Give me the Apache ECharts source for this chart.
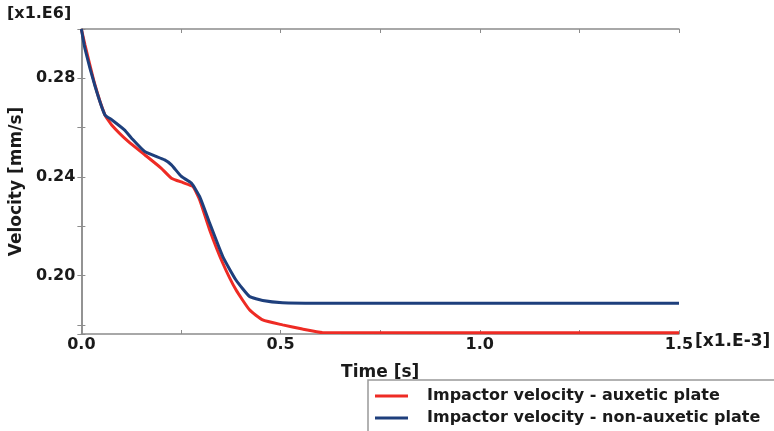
<!DOCTYPE html>
<html>
<head>
<meta charset="utf-8">
<script src="https://cdn.jsdelivr.net/npm/echarts@6/dist/echarts.min.js"></script>
<style>
  html, body { margin: 0; padding: 0; background: #fff; }
  #chart { width: 774px; height: 431px; }
</style>
</head>
<body>
<div id="chart"></div>
<script>
  // time in [x1.E-3] s, velocity in [x1.E6] mm/s
  const timeAuxetic = [0, 0.009, 0.034, 0.059, 0.076, 0.1175, 0.159, 0.2, 0.226, 0.255, 0.28, 0.297, 0.322, 0.355, 0.388, 0.422, 0.455, 0.505, 0.555, 0.605, 1.5];
  const velAuxetic = [0.300, 0.2936, 0.2774, 0.2652, 0.2611, 0.2544, 0.249, 0.2436, 0.2395, 0.2377, 0.2361, 0.2307, 0.2185, 0.205, 0.1942, 0.1861, 0.182, 0.180, 0.1783, 0.1769, 0.1768];
  const timeNonAuxetic = [0, 0.009, 0.034, 0.059, 0.076, 0.108, 0.126, 0.159, 0.209, 0.226, 0.251, 0.276, 0.297, 0.322, 0.355, 0.388, 0.422, 0.455, 0.505, 0.59, 1.5];
  const velNonAuxetic = [0.300, 0.292, 0.277, 0.2652, 0.2632, 0.2591, 0.2557, 0.2503, 0.2469, 0.2449, 0.2402, 0.2375, 0.232, 0.2213, 0.2077, 0.1982, 0.1915, 0.1899, 0.189, 0.1888, 0.1888];
  const xLabels = ['0.0', '0.5', '1.0', '1.5'];
  const yLabels = ['0.20', '0.24', '0.28'];
  const seriesNames = ['Impactor velocity - auxetic plate', 'Impactor velocity - non-auxetic plate'];

  const font = 'DejaVu Sans';
  const axisGrey = '#8c8c8c';
  const ink = '#1a1a1a';

  function pairs(ts, vs) {
    return ts.map(function (t, i) { return [t, vs[i]]; });
  }

  const chart = echarts.init(document.getElementById('chart'));

  const xBase = {
    type: 'value',
    min: 0,
    max: 1.5,
    interval: 0.25,
    splitLine: { show: false },
    axisLine: { lineStyle: { color: axisGrey, width: 1.5 } },
    axisTick: { inside: true, length: 4, lineStyle: { color: axisGrey } }
  };
  const yBase = {
    type: 'value',
    min: 0.1763,
    max: 0.30,
    splitNumber: 5,
    scale: true,
    splitLine: { show: false },
    axisLine: { show: true, lineStyle: { color: axisGrey, width: 1.5 } },
    axisTick: { show: true, inside: true, length: 4, lineStyle: { color: axisGrey } }
  };

  const option = {
    animation: false,
    grid: { left: 78, right: 95, top: 29, bottom: 97 },
    xAxis: [
      Object.assign({}, xBase, {
        position: 'bottom',
        name: 'Time [s]',
        nameLocation: 'middle',
        nameGap: 30,
        nameTextStyle: { fontFamily: font, fontWeight: 'bold', fontSize: 17, color: ink },
        axisLabel: {
          margin: 3,
          fontFamily: font, fontWeight: 'bold', fontSize: 16, color: ink,
          formatter: function (v) {
            const s = v.toFixed(1);
            return xLabels.indexOf(s) >= 0 && Math.abs(v * 2 - Math.round(v * 2)) < 1e-6 ? s : '';
          }
        }
      }),
      Object.assign({}, xBase, { position: 'top', axisLabel: { show: false } })
    ],
    yAxis: [
      Object.assign({}, yBase, {
        position: 'left',
        name: 'Velocity [mm/s]',
        nameLocation: 'middle',
        nameGap: 54,
        nameTextStyle: { fontFamily: font, fontWeight: 'bold', fontSize: 17, color: ink },
        axisLabel: {
          margin: 6,
          fontFamily: font, fontWeight: 'bold', fontSize: 16, color: ink,
          formatter: function (v) {
            const s = v.toFixed(2);
            return yLabels.indexOf(s) >= 0 && Math.abs(v * 100 - Math.round(v * 100)) < 1e-6 ? s : '';
          }
        }
      }),
      Object.assign({}, yBase, { position: 'right', axisLabel: { show: false } })
    ],
    legend: {
      orient: 'vertical',
      left: 375,
      top: 385,
      padding: 0,
      itemGap: 0,
      itemWidth: 33,
      itemHeight: 3,
      icon: 'rect',
      textStyle: {
        fontFamily: font, fontWeight: 'bold', fontSize: 16, color: ink,
        lineHeight: 22, padding: [0, 0, 0, 14]
      },
      data: seriesNames
    },
    graphic: [
      { type: 'text', left: 7, top: 6, style: { text: '[x1.E6]', fontFamily: font, fontWeight: 'bold', fontSize: 16, fill: ink } },
      { type: 'text', left: 695, top: 333, style: { text: '[x1.E-3]', fontFamily: font, fontWeight: 'bold', fontSize: 17, fill: ink } },
      { type: 'rect', shape: { x: 368, y: 380, width: 420, height: 70 }, style: { fill: 'none', stroke: '#999', lineWidth: 1.5 } }
    ],
    series: [
      {
        name: seriesNames[0],
        type: 'line',
        data: pairs(timeAuxetic, velAuxetic),
        showSymbol: false,
        symbol: 'none',
        smooth: 0.15,
        color: '#ee2b24',
        lineStyle: { width: 3 }
      },
      {
        name: seriesNames[1],
        type: 'line',
        data: pairs(timeNonAuxetic, velNonAuxetic),
        showSymbol: false,
        symbol: 'none',
        smooth: 0.15,
        color: '#1e3f7c',
        lineStyle: { width: 3 }
      }
    ]
  };

  chart.setOption(option);
</script>
</body>
</html>
